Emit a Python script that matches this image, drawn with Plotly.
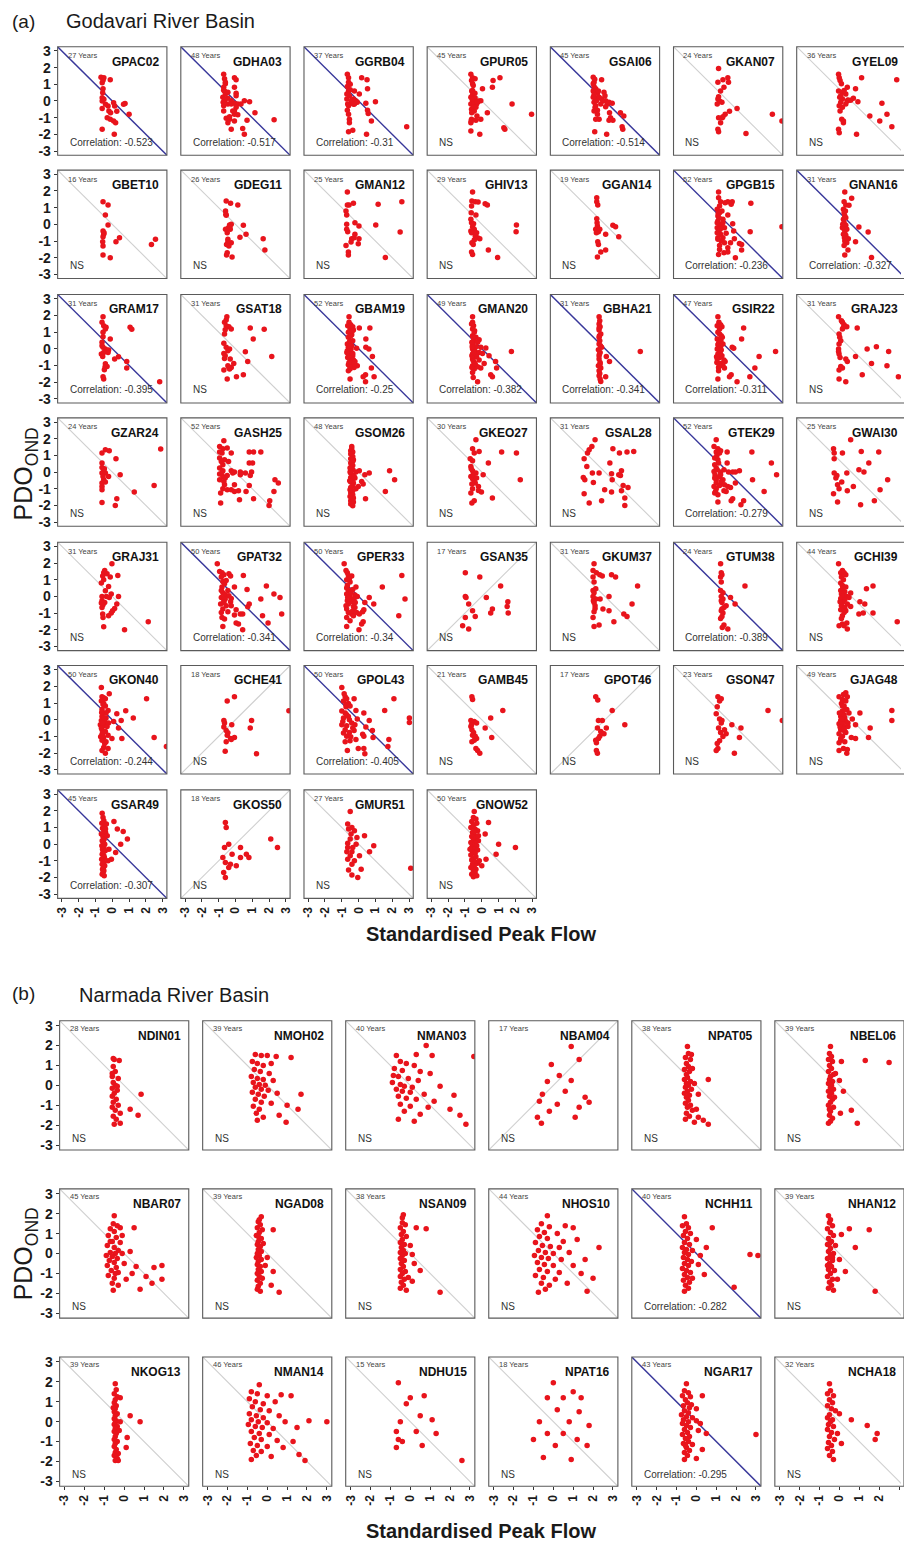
import plotly.graph_objects as go

W, H = 904, 1547

# ---------------- Godavari River Basin: (standardised peak flow, PDO_OND) ----------------
GPAC02 = [(-0.67,1.43),(-0.5,1.4),(-0.12,1.27),(-0.6,1.1),(-0.55,0.73),(-0.57,0.5),(-0.6,0.2),(-0.6,0.0),(0.08,-0.1),(0.14,-0.3),(-0.25,-0.3),(-0.6,-0.45),(0.27,-0.62),(0.76,-0.15),(0.67,-0.2),(1.0,-0.8),(-0.2,-0.6),(-0.3,-1.0),(-0.12,-1.1),(0.08,-1.2),(0.2,-1.3),(-0.6,-1.7),(0.12,-2.0),(-0.55,1.25),(-0.5,0.1),(-0.1,-0.7),(-0.4,-0.2)]
GDHA03 = [(-0.7,1.6),(-0.65,1.33),(-0.06,1.4),(0.04,1.27),(-0.6,1.03),(-0.7,0.83),(-0.06,0.83),(-0.65,0.6),(0.04,0.46),(-0.6,0.42),(-0.75,0.22),(-0.45,0.16),(-0.65,0.0),(-0.25,0.02),(-0.06,-0.14),(0.14,-0.18),(-0.7,-0.28),(-0.45,-0.18),(0.04,-0.38),(0.53,0.02),(0.84,-0.04),(1.16,-0.7),(-0.06,-0.8),(0.14,-0.83),(-0.55,-1.03),(-0.35,-1.1),(-0.45,-1.3),(-0.06,-1.2),(0.69,-1.15),(2.3,-1.13),(-0.25,-1.7),(0.43,-1.65),(0.53,-2.0),(-0.06,-0.6),(-0.7,-0.6),(-0.6,1.13),(-0.7,0.65),(-0.25,-0.18),(-0.45,0.53),(-0.65,0.14),(-0.73,-0.08),(-0.16,-0.6),(0.33,-0.18),(-0.35,-0.95),(0.04,0.32)]
GGRB04 = [(-0.67,1.6),(-0.6,1.4),(0.18,1.4),(0.5,1.27),(-0.6,1.13),(-0.67,0.87),(0.53,0.73),(-0.6,0.6),(-0.25,0.6),(0.04,0.42),(-0.55,0.32),(-0.31,0.12),(-0.16,0.0),(-0.47,-0.14),(-0.25,-0.18),(0.43,-0.14),(1.0,-0.04),(-0.6,-0.28),(-0.67,-0.55),(0.53,-0.55),(0.57,-0.75),(-0.55,-1.1),(0.76,-1.2),(-0.55,-1.3),(-0.35,-1.75),(-0.6,-1.85),(0.47,-2.0),(2.86,-1.55),(-0.7,0.12),(-0.41,0.04),(-0.65,-0.18),(-0.5,0.67),(-0.08,-0.08),(-0.7,0.42),(-0.3,-0.2),(-0.6,-0.8),(-0.5,1.0)]
GPUR05 = [(-0.65,1.6),(-0.55,1.4),(-0.4,1.33),(0.67,1.23),(1.08,1.4),(0.63,0.83),(0.04,0.73),(-0.55,1.03),(-0.6,0.6),(-0.55,0.38),(-0.65,0.22),(-0.4,0.18),(-0.55,0.02),(-0.2,0.0),(-0.06,0.02),(-0.65,-0.18),(-0.31,-0.18),(-0.61,-0.5),(-0.45,-0.6),(0.33,-0.7),(1.8,-0.18),(2.96,-0.8),(-0.29,-0.9),(-0.61,-1.1),(-0.35,-1.15),(-0.06,-1.1),(-0.65,-1.3),(1.31,-1.6),(1.37,-1.7),(-0.65,-1.8),(-0.12,-2.0),(-0.5,-0.28),(-0.55,0.63),(-0.61,1.23),(-0.47,-0.08),(-0.57,0.12),(-0.35,-0.38),(-0.6,-0.7),(-0.63,-1.2),(-0.25,-0.08),(-0.51,0.93),(-0.41,0.46)]
GSAI06 = [(-0.7,1.43),(-0.2,1.27),(-0.65,1.13),(-0.65,0.87),(-0.7,0.6),(-0.45,0.46),(-0.06,0.53),(-0.65,0.38),(-0.55,0.16),(-0.2,0.12),(0.04,0.02),(0.14,-0.18),(0.43,-0.14),(-0.65,-0.08),(-0.55,-0.28),(-0.45,-0.55),(0.27,-0.7),(0.92,-0.7),(1.12,-0.9),(-0.55,-1.1),(-0.35,-1.1),(0.24,-1.15),(0.47,-1.15),(0.33,-1.0),(1.02,-1.55),(1.06,-1.7),(-0.61,-1.85),(0.1,-2.0),(-0.7,1.03),(-0.55,0.73),(-0.35,0.22),(-0.12,0.0),(-0.59,-0.38),(-0.45,-0.8),(0.04,-0.35),(-0.7,0.22),(-0.25,-0.18),(0.24,-0.08),(-0.61,1.3),(-0.51,0.02),(0.0,0.32),(-0.39,0.6),(-0.65,-0.6)]
GKAN07 = [(-0.57,1.95),(-0.61,1.13),(-0.31,1.27),(-0.02,1.4),(0.02,1.13),(-0.25,0.83),(-0.45,0.6),(-0.61,0.12),(-0.51,0.0),(-0.37,-0.08),(-0.65,-0.18),(0.53,-0.45),(0.08,-0.62),(-0.18,-0.8),(-0.35,-1.0),(-0.45,-1.3),(-0.61,-1.7),(-0.57,-1.85),(1.06,-1.95),(2.63,-0.8),(3.2,-1.2),(-0.57,0.26),(-0.31,-0.95),(-0.57,-1.0)]
GYEL09 = [(-0.76,1.6),(-0.72,1.4),(-0.67,1.23),(0.61,1.4),(2.7,1.27),(-0.24,0.83),(0.25,0.73),(-0.76,0.6),(-0.53,0.53),(-0.33,0.42),(-0.69,0.22),(0.12,0.16),(0.39,-0.04),(-0.24,0.0),(-0.63,-0.08),(-0.72,-0.28),(-0.33,-0.18),(-0.53,-0.38),(1.82,-0.14),(1.1,-0.9),(2.12,-0.8),(1.69,-1.2),(-0.57,-1.1),(-0.47,-1.3),(2.41,-1.55),(-0.76,-1.7),(-0.72,-1.9),(0.31,-2.0),(-0.53,0.12),(-0.67,-0.6),(-0.43,0.63),(-0.59,1.03),(-0.04,0.04),(-0.47,-1.2),(-0.2,0.06),(-0.63,0.32)]
GBET10 = [(-0.55,1.36),(-0.25,1.16),(-0.41,0.56),(-0.25,-0.04),(-0.55,-0.4),(-0.51,-0.6),(-0.55,-0.74),(-0.57,-1.04),(-0.55,-1.3),(0.22,-1.04),(0.43,-0.8),(2.33,-1.2),(2.57,-0.9),(-0.55,-1.84),(-0.12,-2.0),(-0.49,-0.5)]
GDEG11 = [(-0.55,1.4),(-0.29,1.26),(0.14,1.16),(-0.59,0.8),(-0.55,0.54),(-0.35,-0.04),(-0.25,0.0),(-0.41,-0.2),(-0.59,-0.3),(-0.49,-0.5),(-0.31,-0.3),(0.47,-0.06),(0.63,-0.6),(0.27,-0.78),(1.65,-0.86),(1.75,-1.54),(-0.45,-1.04),(-0.25,-1.1),(-0.53,-1.2),(-0.39,-1.3),(-0.49,-1.7),(-0.53,-1.84),(-0.2,-1.96),(-0.57,0.6),(-0.45,-0.9),(-0.33,-0.14)]
GMAN12 = [(-0.67,1.94),(-0.67,1.16),(-0.57,1.16),(-0.31,1.26),(1.16,1.2),(2.57,1.36),(-0.75,0.8),(-0.71,0.56),(-0.71,0.0),(-0.22,0.1),(0.02,-0.1),(1.02,-0.04),(-0.71,-0.3),(-0.65,-0.44),(-0.22,-0.6),(0.02,-0.86),(-0.41,-0.86),(-0.45,-1.06),(-0.02,-1.16),(-0.75,-1.26),(2.47,-0.46),(-0.61,-1.66),(-0.61,-1.84),(1.59,-1.98),(-0.27,-0.8)]
GHIV13 = [(-0.55,1.94),(-0.59,1.4),(-0.39,1.36),(-0.22,1.34),(0.2,1.24),(0.33,1.16),(-0.61,1.1),(-0.35,0.56),(-0.65,0.3),(-0.61,0.1),(-0.55,-0.14),(-0.45,-0.3),(-0.65,-0.4),(-0.61,-0.5),(-0.39,-0.7),(-0.25,-0.8),(-0.12,-0.86),(-0.45,-0.94),(-0.59,-1.1),(-0.51,-1.2),(2.06,-0.04),(2.04,-0.44),(0.39,-1.54),(0.94,-1.98),(-0.61,-1.66),(-0.55,-1.8),(-0.49,0.04),(-0.63,0.7),(-0.31,-0.5)]
GGAN14 = [(-0.49,1.6),(-0.49,1.36),(-0.43,1.16),(-0.49,0.34),(-0.45,-0.1),(-0.55,-0.3),(-0.39,-0.44),(0.04,-0.6),(0.47,-0.06),(0.63,-0.14),(0.82,-0.74),(-0.43,-1.04),(0.04,-1.54),(-0.25,-1.66),(-0.45,-1.96),(-0.47,0.1),(-0.39,-1.2),(-0.51,-0.5),(-0.31,-0.3)]
GPGB15 = [(-0.57,1.94),(-0.57,1.6),(-0.45,1.36),(-0.02,1.36),(0.24,1.36),(0.18,1.2),(1.35,1.26),(-0.51,1.1),(-0.65,0.9),(-0.51,0.7),(-0.61,0.5),(-0.02,0.56),(-0.31,0.3),(-0.61,0.2),(-0.51,0.0),(0.27,0.04),(-0.65,-0.2),(-0.22,-0.2),(3.2,-0.14),(-0.57,-0.4),(0.33,-0.4),(1.31,-0.44),(-0.45,-0.6),(-0.12,-0.54),(-0.61,-0.8),(-0.31,-0.8),(0.37,-0.86),(-0.41,-1.0),(0.14,-1.1),(0.67,-1.14),(0.8,-1.2),(-0.51,-1.26),(-0.02,-1.4),(0.8,-1.54),(-0.25,-1.7),(-0.02,-1.66),(-0.57,-1.8),(0.43,-2.0),(-0.65,0.1),(-0.41,-0.1),(-0.55,0.4),(-0.37,0.8),(-0.65,-0.5),(-0.22,-1.1),(-0.47,-0.3),(-0.61,-0.9),(-0.31,0.1),(-0.51,-1.5),(-0.18,1.3),(-0.59,0.66)]
GNAN16 = [(-0.39,1.94),(0.02,1.56),(-0.43,1.36),(-0.33,1.16),(-0.14,1.14),(-0.47,0.9),(-0.43,0.7),(-0.39,0.5),(-0.47,0.3),(-0.43,0.1),(-0.33,-0.06),(0.45,-0.16),(-0.43,-0.26),(1.0,-0.46),(-0.39,-0.46),(-0.33,-0.66),(-0.18,-0.86),(0.25,-1.04),(-0.39,-1.0),(-0.27,-1.1),(-0.43,-1.26),(-0.2,-1.54),(-0.39,-1.84),(1.2,-1.98),(-0.53,-0.2),(-0.33,0.4),(-0.47,-0.6),(-0.41,-0.8),(-0.27,-0.3),(-0.51,0.0),(-0.35,0.8)]
GRAM17 = [(-0.55,1.92),(-0.61,1.58),(-0.51,1.38),(-0.41,1.18),(-0.55,0.98),(1.06,1.28),(1.16,1.16),(-0.55,0.72),(-0.12,0.58),(-0.61,0.38),(-0.55,0.08),(-0.41,-0.02),(-0.31,-0.12),(-0.22,-0.08),(-0.25,-0.22),(-0.65,-0.32),(-0.57,-0.46),(0.37,-0.48),(0.14,-0.62),(0.86,-0.76),(-0.41,-0.9),(-0.31,-1.06),(0.86,-1.16),(-0.47,-1.26),(-0.55,-1.68),(-0.51,-1.82),(2.82,-1.98),(-0.61,0.18),(-0.43,-1.1),(-0.51,-0.22),(-0.37,1.28)]
GSAT18 = [(-0.51,1.92),(-0.65,1.58),(-0.55,1.38),(-0.39,1.32),(-0.61,1.14),(0.88,1.24),(1.71,1.16),(1.06,0.58),(-0.65,0.88),(-0.69,0.32),(-0.55,0.08),(-0.35,-0.02),(-0.69,-0.28),(-0.61,-0.42),(0.59,-0.18),(2.16,-0.46),(-0.31,-0.62),(-0.1,-0.88),(0.73,-0.76),(-0.45,-1.02),(-0.25,-1.12),(-0.35,-1.22),(-0.69,-1.28),(0.47,-1.56),(0.06,-1.68),(-0.49,-1.82),(-0.45,-0.12),(-0.65,-0.58),(-0.25,1.18),(-0.55,1.72),(-0.39,-1.12)]
GBAM19 = [(-0.57,1.92),(-0.57,1.58),(-0.47,1.44),(-0.35,1.32),(-0.51,1.18),(-0.31,1.12),(0.04,1.24),(0.67,1.24),(-0.61,0.98),(-0.41,0.84),(-0.61,0.68),(0.43,0.58),(-0.51,0.48),(-0.67,0.28),(-0.41,0.18),(-0.61,0.08),(-0.12,0.02),(0.43,0.08),(0.61,-0.02),(-0.67,-0.12),(-0.51,-0.22),(-0.61,-0.32),(-0.35,-0.42),(0.82,-0.46),(-0.51,-0.62),(-0.31,-0.68),(-0.22,-0.76),(-0.41,-0.88),(-0.61,-0.96),(-0.08,-1.02),(-0.27,-1.12),(-0.51,-1.22),(0.76,-1.16),(-0.61,-1.32),(0.41,-1.56),(0.27,-1.68),(0.92,-1.68),(-0.51,-1.82),(0.41,-1.98),(-0.55,0.38),(-0.65,-0.52),(-0.45,-0.02),(-0.35,0.48),(-0.57,-0.82),(-0.7,-0.22),(-0.25,-0.92),(-0.47,0.78),(-0.51,-1.08),(-0.39,1.04),(-0.65,1.38),(-0.35,-0.28),(-0.53,0.18)]
GMAN20 = [(-0.55,1.92),(-0.55,1.58),(-0.49,1.38),(-0.55,1.18),(-0.45,0.98),(-0.55,0.78),(-0.35,0.68),(-0.16,0.54),(-0.49,0.48),(-0.25,0.38),(-0.55,0.24),(-0.35,0.12),(-0.06,0.08),(0.24,0.04),(1.76,-0.16),(-0.55,-0.02),(-0.39,-0.16),(-0.16,-0.22),(0.04,-0.28),(-0.55,-0.32),(0.43,-0.42),(-0.31,-0.48),(-0.55,-0.62),(-0.16,-0.68),(0.82,-0.76),(-0.45,-0.82),(0.14,-0.88),(-0.55,-1.02),(-0.25,-1.08),(-0.06,-1.16),(0.88,-1.16),(-0.45,-1.22),(-0.55,-1.42),(0.53,-1.56),(0.63,-1.68),(-0.51,-1.72),(-0.25,-1.98),(-0.59,0.38),(-0.59,-0.42),(-0.47,-0.08),(-0.59,-1.12),(-0.43,1.08),(-0.51,-0.72),(-0.35,-0.32),(-0.57,0.12),(-0.49,-0.22),(-0.61,1.48),(-0.39,-0.92),(-0.51,0.68)]
GBHA21 = [(-0.35,1.92),(-0.31,1.68),(-0.35,1.48),(-0.29,1.32),(-0.35,1.12),(-0.25,0.88),(-0.35,0.68),(-0.31,0.48),(-0.35,0.28),(-0.2,0.08),(-0.39,-0.06),(-0.29,-0.22),(2.1,-0.16),(0.08,-0.46),(0.27,-0.76),(-0.35,-0.62),(-0.29,-0.82),(-0.39,-1.02),(-0.25,-1.16),(-0.35,-1.32),(-0.31,-1.48),(0.04,-1.68),(-0.29,-1.82),(-0.25,-1.96),(-0.35,-0.42),(-0.29,-0.92),(-0.35,-1.62),(-0.33,0.78),(-0.27,0.18),(-0.33,-0.32),(-0.35,1.24)]
GSIR22 = [(-0.61,1.92),(-0.55,1.58),(-0.45,1.44),(-0.37,1.32),(-0.51,1.18),(0.92,1.24),(-0.61,0.98),(-0.41,0.78),(0.8,0.58),(-0.65,0.58),(-0.51,0.44),(-0.61,0.24),(-0.45,0.12),(0.24,0.08),(0.33,0.02),(-0.65,-0.02),(-0.51,-0.16),(2.82,-0.16),(-0.61,-0.32),(-0.37,-0.42),(1.84,-0.46),(-0.51,-0.52),(-0.65,-0.62),(-0.25,-0.68),(-0.18,-0.76),(-0.45,-0.88),(-0.31,-1.02),(-0.57,-1.12),(-0.22,-1.16),(1.59,-1.16),(0.18,-1.56),(0.08,-1.68),(1.29,-1.68),(-0.61,-1.82),(0.53,-1.98),(-0.57,0.32),(-0.41,-0.08),(-0.67,-0.82),(-0.51,0.88),(-0.47,-0.28),(-0.31,0.28),(-0.65,1.38),(-0.57,-1.32),(-0.35,0.68),(-0.55,-0.92),(-0.43,0.48),(-0.69,-0.48)]
GRAJ23 = [(-0.76,1.92),(-0.53,1.58),(-0.43,1.44),(-0.27,1.32),(-0.53,1.18),(0.35,1.24),(-0.73,0.88),(-0.63,0.48),(-0.73,0.28),(-0.76,-0.02),(0.94,-0.02),(1.49,0.12),(2.22,-0.16),(-0.73,-0.32),(0.25,-0.46),(-0.33,-0.62),(-0.24,-0.76),(1.2,-0.88),(2.12,-1.02),(-0.63,-1.06),(-0.53,-1.16),(-0.73,-1.28),(0.65,-1.56),(2.8,-1.68),(-0.73,-1.82),(-0.33,-1.98),(-0.76,-0.16),(-0.69,0.68),(-0.47,1.28),(-0.67,-0.52),(-0.59,1.68)]
GZAR24 = [(-0.41,1.34),(-0.18,1.28),(-0.61,1.14),(0.22,0.8),(-0.61,0.54),(-0.61,0.28),(-0.51,0.08),(-0.61,-0.06),(-0.41,-0.06),(-0.22,-0.26),(-0.51,-0.46),(-0.41,-0.6),(0.47,-0.16),(2.88,1.38),(-0.61,-0.86),(-0.61,-1.06),(1.31,-1.2),(2.49,-0.8),(0.27,-1.6),(-0.61,-1.82),(0.18,-2.0),(-0.55,-0.26),(-0.47,0.2),(-0.61,-0.66)]
GASH25 = [(-0.69,1.88),(-0.94,1.54),(-0.75,1.4),(-0.49,1.44),(-0.94,1.2),(-0.8,1.14),(-0.25,1.14),(0.82,1.2),(1.08,1.2),(1.51,1.2),(-0.94,0.84),(-0.65,0.74),(-0.41,0.64),(0.82,0.54),(1.02,0.54),(-0.75,0.44),(-0.94,0.24),(-0.75,0.08),(-0.25,0.08),(-0.06,0.0),(0.29,0.0),(0.96,0.0),(-0.94,-0.12),(-0.75,-0.26),(-0.49,-0.2),(-0.16,-0.06),(0.29,-0.16),(0.59,-0.06),(0.88,-0.2),(-0.94,-0.46),(-0.69,-0.56),(-0.65,-0.76),(-0.06,-0.76),(0.82,-0.8),(2.35,-0.46),(2.55,-0.66),(-0.75,-1.0),(-0.25,-1.06),(-0.06,-1.16),(0.18,-1.12),(0.63,-1.16),(2.29,-1.16),(-0.88,-1.26),(-0.49,-1.06),(0.24,-1.66),(1.08,-1.6),(2.04,-1.72),(-0.88,-1.86),(2.0,-2.0),(-0.84,0.64),(-0.61,-0.36),(-0.78,0.04)]
GSOM26 = [(-0.41,1.54),(-0.41,1.4),(-0.47,1.28),(-0.35,1.2),(-0.47,1.08),(-0.35,0.94),(-0.47,0.8),(-0.35,0.64),(-0.47,0.54),(-0.35,0.4),(-0.47,0.28),(-0.35,0.14),(0.04,0.08),(-0.16,0.0),(-0.47,-0.06),(0.63,-0.06),(0.37,-0.16),(-0.35,-0.2),(1.84,0.08),(2.14,-0.46),(-0.47,-0.32),(-0.22,-0.36),(-0.35,-0.46),(0.18,-0.56),(-0.47,-0.6),(0.27,-0.72),(-0.35,-0.8),(-0.02,-0.86),(-0.47,-0.92),(-0.16,-1.0),(-0.35,-1.12),(1.59,-1.16),(-0.47,-1.26),(-0.35,-1.36),(0.41,-1.6),(-0.47,-1.72),(-0.31,-1.8),(-0.47,-1.92),(-0.35,-2.02),(-0.51,-1.06),(-0.31,-0.66),(-0.51,0.0),(-0.31,0.74),(-0.51,0.24),(-0.31,-1.56),(-0.51,-1.46),(-0.27,-0.26),(-0.53,-0.52)]
GKEO27 = [(-0.35,1.94),(-0.55,1.4),(-0.16,1.24),(-0.45,1.14),(1.18,1.2),(2.06,1.14),(0.39,0.54),(-0.69,0.8),(-0.65,0.34),(-0.55,0.08),(-0.35,-0.06),(0.08,-0.16),(-0.65,-0.26),(-0.55,-0.4),(2.29,-0.46),(-0.45,-0.56),(-0.59,-0.72),(-0.2,-0.86),(-0.55,-1.0),(-0.02,-1.2),(-0.2,-1.1),(-0.65,-1.26),(0.63,-1.56),(-0.45,-1.72),(-0.59,-1.86),(-0.51,-0.16),(-0.63,0.2),(-0.39,-0.66),(-0.55,0.68),(-0.31,-0.36)]
GSAL28 = [(-0.59,1.94),(-0.78,1.54),(-0.94,1.34),(-1.04,1.14),(0.47,1.4),(0.86,1.14),(1.31,1.2),(1.71,1.24),(-1.24,0.8),(0.29,0.54),(-1.08,0.34),(-0.75,-0.06),(-0.35,-0.06),(0.39,-0.1),(0.92,-0.2),(0.98,0.08),(-1.29,-0.32),(-1.2,-0.46),(-0.69,-0.62),(1.08,-0.8),(1.37,-0.92),(-0.02,-1.06),(0.39,-1.2),(0.98,-1.12),(-1.24,-1.3),(1.18,-1.56),(-0.2,-1.72),(-0.94,-1.86),(1.18,-2.0),(0.43,-0.46),(0.82,-0.16)]
GTEK29 = [(-0.71,1.94),(-0.84,1.54),(-0.61,1.4),(-0.45,1.28),(-0.71,1.2),(-0.06,1.2),(-0.51,1.14),(1.41,1.2),(-0.8,0.84),(-0.61,0.74),(-0.06,0.54),(2.57,0.54),(-0.8,0.44),(-0.71,0.24),(-0.25,0.14),(-0.84,0.04),(-0.45,0.0),(0.02,0.0),(0.27,0.0),(0.43,0.0),(0.67,0.08),(2.88,-0.16),(-0.78,-0.16),(-0.51,-0.26),(-0.71,-0.46),(-0.31,-0.46),(1.45,-0.46),(-0.71,-0.66),(0.43,-0.66),(-0.51,-0.8),(-0.02,-0.86),(0.14,-0.92),(-0.71,-1.0),(-0.25,-1.12),(-0.12,-1.16),(2.14,-1.16),(-0.8,-1.26),(-0.61,-1.36),(0.27,-1.6),(0.18,-1.72),(0.92,-1.72),(-0.61,-1.8),(0.76,-1.96),(-0.8,-0.36),(-0.65,0.14),(-0.84,-0.86),(-0.57,0.54),(-0.41,-0.56),(-0.75,-1.16),(-0.22,-0.76),(-0.67,1.0),(-0.45,-0.16)]
GWAI30 = [(-0.04,1.94),(-1.06,1.4),(-1.02,1.14),(-0.53,1.14),(0.59,1.24),(1.63,1.2),(-1.02,0.8),(1.04,0.54),(0.45,0.14),(0.75,0.0),(-1.02,-0.06),(-0.27,-0.06),(-0.92,-0.36),(-0.57,-0.6),(-0.82,-0.76),(0.12,-0.86),(2.16,-0.46),(-0.73,-1.0),(-0.24,-1.12),(1.71,-1.06),(-1.06,-1.3),(1.37,-1.72),(-0.82,-1.8),(0.55,-1.96),(-0.86,-0.2)]
GRAJ31 = [(-0.02,1.96),(-0.45,1.56),(-0.51,1.42),(-0.31,1.36),(-0.57,1.22),(-0.12,1.16),(0.33,1.26),(-0.51,1.0),(-0.65,0.8),(-0.22,0.6),(-0.41,0.34),(-0.06,0.14),(-0.61,0.0),(-0.35,0.0),(-0.18,-0.06),(0.37,0.0),(-0.61,-0.26),(-0.45,-0.36),(-0.55,-0.5),(0.27,-0.46),(-0.61,-0.66),(0.14,-0.72),(0.02,-0.86),(-0.06,-1.0),(-0.57,-1.06),(-0.22,-1.16),(-0.55,-1.26),(2.14,-1.52),(-0.51,-1.82),(0.73,-2.0),(-0.65,-0.4)]
GPAT32 = [(-1.08,1.96),(-0.94,1.5),(-0.8,1.42),(-0.69,1.3),(-0.84,1.16),(-0.39,1.36),(-0.29,1.22),(0.47,1.26),(-0.75,0.9),(-0.65,0.76),(-0.8,0.56),(-0.06,0.56),(-0.45,0.36),(0.69,0.42),(1.84,0.62),(-0.75,0.22),(-0.61,0.1),(-0.39,0.04),(2.29,0.14),(2.65,-0.06),(1.51,-0.16),(-0.84,-0.06),(-0.25,-0.12),(-0.69,-0.26),(-0.29,-0.32),(0.82,-0.46),(0.73,-0.62),(-0.88,-0.46),(-0.55,-0.56),(-0.75,-0.76),(0.04,-0.8),(-0.45,-0.92),(-0.06,-1.12),(0.29,-1.06),(0.43,-1.06),(1.61,-1.16),(2.75,-1.06),(-0.8,-1.26),(-0.65,-1.36),(0.04,-1.6),(0.18,-1.66),(1.94,-1.6),(-0.75,-1.8),(0.43,-2.0),(-0.61,-0.16),(-0.84,0.36),(-0.55,0.96),(-0.69,-0.36),(-0.25,-0.56),(-0.84,-0.96)]
GPER33 = [(-0.86,1.96),(-0.75,1.56),(-0.67,1.42),(-0.61,1.26),(-0.41,1.22),(-0.71,1.0),(-0.51,0.86),(-0.67,0.66),(-0.16,0.56),(1.41,0.56),(2.57,1.26),(-0.61,0.36),(-0.35,0.42),(-0.71,0.14),(-0.22,0.08),(-0.08,0.0),(-0.51,0.0),(0.63,-0.06),(2.76,-0.16),(-0.67,-0.26),(-0.41,-0.32),(0.37,-0.36),(0.9,-0.46),(-0.61,-0.46),(-0.31,-0.6),(-0.22,-0.66),(-0.71,-0.76),(0.31,-0.8),(0.24,-0.92),(-0.41,-1.06),(0.04,-1.06),(-0.71,-1.26),(2.39,-1.16),(-0.31,-1.16),(0.27,-1.52),(0.18,-1.66),(-0.71,-1.8),(0.02,-2.0),(-0.55,-0.16),(-0.75,-0.56),(-0.45,0.24),(-0.27,-0.16),(-0.61,-0.96),(-0.35,-0.86),(-0.71,0.5),(-0.55,1.08),(-0.2,-0.36),(-0.51,-1.46),(-0.65,-0.06),(-0.12,-0.96)]
GSAN35 = [(-0.98,1.42),(-0.12,1.16),(1.12,0.62),(-0.98,0.0),(0.27,-0.06),(-0.78,-0.46),(1.55,-0.32),(-0.55,-0.86),(0.63,-0.76),(1.51,-0.6),(-0.39,-1.2),(0.53,-1.0),(1.57,-1.0),(-0.98,-1.26),(-1.14,-1.76),(-0.78,-1.96),(-0.94,-0.06)]
GKUM37 = [(-0.65,1.96),(-0.71,1.56),(-0.51,1.42),(-0.31,1.3),(-0.16,1.22),(-0.71,1.16),(0.39,1.3),(0.63,1.16),(1.94,0.62),(-0.65,0.86),(-0.71,0.36),(-0.65,0.22),(-0.71,0.0),(-0.55,-0.16),(-0.29,-0.16),(0.24,0.0),(-0.65,-0.36),(1.61,-0.46),(-0.59,-0.56),(-0.12,-0.76),(0.24,-0.86),(-0.65,-0.92),(1.12,-1.06),(1.31,-1.2),(-0.71,-1.26),(0.53,-1.52),(-0.35,-1.72),(-0.65,-1.8),(-0.55,0.46),(-0.59,-0.72),(-0.69,-0.26)]
GTUM38 = [(-0.45,1.96),(-0.41,1.42),(-0.37,1.3),(-0.45,1.16),(1.0,0.62),(-0.45,0.36),(-0.31,0.22),(-0.41,0.0),(0.14,-0.06),(-0.31,-0.16),(-0.37,-0.36),(0.41,-0.46),(-0.12,-0.56),(-0.25,-0.66),(-0.41,-0.86),(-0.31,-1.0),(-0.37,-1.2),(-0.45,-1.32),(-0.25,-1.72),(-0.02,-1.96),(-0.35,-1.86),(-0.41,-0.26),(-0.37,-0.76),(-0.41,0.86)]
GCHI39 = [(-0.76,1.96),(-0.53,1.56),(-0.63,1.42),(-0.43,1.42),(-0.33,1.3),(-0.59,1.16),(-0.47,1.0),(-0.63,0.8),(-0.53,0.66),(-0.33,0.56),(1.29,0.62),(0.9,0.46),(-0.63,0.36),(-0.39,0.28),(-0.04,0.2),(-0.59,0.14),(-0.47,0.04),(-0.27,0.0),(-0.14,-0.06),(-0.63,-0.12),(-0.39,-0.2),(0.51,-0.32),(0.8,-0.46),(-0.53,-0.36),(-0.24,-0.46),(-0.59,-0.56),(-0.39,-0.66),(-0.04,-0.6),(-0.63,-0.8),(-0.33,-0.86),(0.45,-1.06),(0.71,-1.0),(1.29,-1.0),(2.73,-1.52),(-0.53,-1.16),(-0.59,-1.32),(-0.27,-1.6),(-0.53,-1.66),(-0.73,-1.76),(-0.24,-1.96),(-0.43,-1.76),(-0.67,-0.32),(-0.51,0.5),(-0.43,-0.96)]
GKON40 = [(-0.65,1.94),(-0.61,1.38),(-0.51,1.32),(-0.41,1.26),(-0.18,1.56),(-0.65,1.12),(-0.51,0.98),(-0.41,0.82),(-0.61,0.62),(-0.25,0.56),(-0.51,0.4),(0.27,0.36),(0.8,0.54),(1.25,0.1),(2.04,1.26),(-0.61,0.2),(-0.37,0.1),(0.53,-0.04),(-0.65,-0.04),(-0.45,-0.1),(0.08,-0.1),(-0.71,-0.3),(-0.51,-0.36),(-0.31,-0.4),(0.37,-0.5),(-0.61,-0.6),(-0.41,-0.7),(-0.61,-0.86),(-0.25,-0.92),(-0.51,-1.06),(-0.02,-1.12),(0.57,-1.12),(2.49,-1.06),(-0.61,-1.22),(-0.37,-1.32),(3.22,-1.6),(-0.51,-1.66),(-0.25,-1.72),(-0.61,-1.84),(-0.41,-2.0),(-0.57,-0.2),(-0.65,-0.5),(-0.49,0.1),(-0.55,0.92),(-0.45,-1.42),(-0.69,-1.02),(-0.37,0.4),(-0.63,0.44),(-0.22,-0.2),(-0.55,-0.78)]
GCHE41 = [(-0.49,1.12),(-0.06,1.38),(3.18,0.54),(-0.69,-0.04),(-0.22,-0.3),(0.96,-0.04),(-0.69,-0.44),(0.88,-0.5),(-0.55,-0.64),(-0.49,-0.92),(-0.29,-1.12),(-0.06,-1.06),(-0.55,-1.32),(-0.61,-1.88),(1.25,-2.04),(-0.25,-1.18),(-0.65,-0.2),(-0.45,-0.78)]
GPOL43 = [(-1.0,1.94),(-0.86,1.56),(-0.8,1.38),(-0.71,1.26),(-0.27,1.26),(2.1,1.26),(-0.9,1.12),(-0.61,0.98),(-0.75,0.78),(-0.51,0.82),(-1.0,0.52),(-0.16,0.56),(1.55,0.56),(-0.71,0.3),(0.31,0.4),(-0.9,0.1),(-0.55,0.0),(-0.08,0.04),(0.63,-0.04),(3.02,0.1),(3.02,-0.16),(-1.0,-0.3),(-0.71,-0.36),(-0.22,-0.3),(0.43,-0.44),(-0.8,-0.6),(-0.27,-0.64),(0.82,-0.64),(-0.55,-0.76),(0.24,-0.86),(0.31,-0.98),(-0.71,-0.98),(-0.16,-1.18),(0.86,-1.06),(1.8,-1.18),(-0.8,-1.32),(-0.51,-1.26),(1.74,-1.6),(-0.02,-1.72),(0.31,-1.72),(-0.67,-1.84),(0.37,-2.04),(-0.94,-0.1),(-0.8,0.4),(-0.41,-0.2),(-0.9,-0.8),(-0.61,0.2),(-0.35,-0.5),(-0.75,0.92),(-0.47,-1.02)]
GAMB45 = [(-0.59,1.38),(-0.55,1.22),(1.25,0.56),(0.53,0.1),(-0.65,-0.04),(-0.45,-0.1),(-0.31,-0.2),(0.2,-0.5),(-0.65,-0.4),(-0.59,-0.6),(-0.49,-0.76),(0.59,-1.06),(-0.31,-1.12),(-0.45,-1.22),(-0.59,-1.32),(-0.35,-1.72),(-0.25,-1.84),(-0.12,-2.0),(-0.55,-0.92),(-0.61,-0.3),(-0.39,-0.98)]
GPOT46 = [(-0.55,1.38),(-0.43,1.18),(0.43,0.56),(-0.39,-0.04),(-0.16,-0.04),(1.18,-0.3),(-0.45,-0.5),(0.08,-0.5),(-0.25,-0.7),(-0.06,-0.84),(-0.31,-0.98),(-0.55,-1.22),(-0.39,-1.12),(-0.51,-1.38),(-0.51,-1.84),(-0.45,-2.0),(-0.2,-0.8)]
GSON47 = [(-0.61,1.38),(-0.41,1.26),(-0.51,1.12),(2.37,0.56),(-0.65,0.78),(3.22,-0.04),(-0.71,0.36),(-0.37,-0.04),(-0.51,0.04),(0.22,-0.3),(0.76,-0.5),(-0.57,-0.5),(-0.22,-0.6),(-0.45,-0.76),(-0.12,-0.84),(-0.31,-1.0),(0.67,-1.06),(-0.51,-1.26),(-0.61,-1.72),(-0.71,-1.84),(0.37,-2.0),(-0.41,-0.2),(-0.65,-1.42)]
GJAG48 = [(-0.33,1.62),(-0.47,1.52),(-0.24,1.38),(-0.73,1.38),(-0.53,1.22),(-0.33,1.12),(-0.59,0.98),(-0.43,0.82),(-0.27,0.62),(-0.53,0.52),(-0.14,0.4),(0.51,0.4),(2.41,0.56),(2.41,-0.04),(-0.63,0.2),(-0.39,0.1),(0.06,0.04),(-0.63,-0.04),(-0.33,-0.1),(0.25,-0.3),(-0.73,-0.24),(-0.47,-0.36),(-0.2,-0.4),(1.12,-0.5),(-0.63,-0.6),(-0.39,-0.7),(-0.73,-0.84),(-0.53,-0.98),(0.0,-1.06),(0.25,-1.12),(1.02,-1.06),(-0.63,-1.22),(-0.39,-1.32),(-0.73,-1.38),(-0.47,-1.72),(-0.24,-1.78),(-0.73,-1.84),(-0.27,-2.0),(-0.57,-0.16),(-0.43,0.3),(-0.67,-0.44),(-0.53,0.82),(-0.33,-0.76),(-0.63,-1.12),(-0.2,-0.2),(-0.71,0.4),(-0.43,-0.56),(-0.57,0.04),(-0.35,0.62)]
GSAR49 = [(-0.6,1.85),(-0.55,1.6),(-0.5,1.4),(-0.62,1.25),(-0.45,1.1),(-0.58,0.95),(-0.5,0.8),(-0.4,0.7),(-0.65,0.6),(-0.55,0.45),(-0.48,0.3),(-0.6,0.2),(-0.52,0.1),(-0.45,0.0),(-0.62,-0.1),(-0.5,-0.2),(-0.58,-0.3),(-0.42,-0.4),(-0.55,-0.5),(-0.6,-0.6),(-0.5,-0.7),(-0.47,-0.8),(-0.63,-0.9),(-0.55,-1.0),(-0.5,-1.1),(-0.6,-1.2),(-0.45,-1.3),(-0.52,-1.4),(-0.58,-1.5),(-0.5,-1.6),(-0.55,-1.7),(-0.6,-1.8),(-0.48,-1.9),(-0.3,0.5),(-0.2,-0.3),(0.1,1.35),(0.3,0.9),(0.65,0.75),(0.5,0.0),(0.9,0.3),(-0.05,-0.9),(-0.35,1.2),(-0.25,-1.0),(0.2,-0.5),(-0.4,0.9)]
GKOS50 = [(-0.6,1.3),(-0.55,1.0),(-0.4,0.0),(0.3,-0.2),(0.8,-0.8),(2.1,0.3),(2.5,-0.2),(-0.75,-0.8),(-0.6,-1.1),(-0.3,-1.2),(0.05,-1.3),(-0.7,-1.7),(-0.6,-2.0),(-0.2,-0.6),(0.65,-0.6),(-0.65,-0.2),(-0.4,-1.4),(0.3,-0.8)]
GMUR51 = [(-0.5,1.95),(-0.65,1.2),(-0.4,1.0),(-0.25,0.8),(0.35,0.5),(-0.5,0.3),(-0.65,-0.2),(-0.4,-0.45),(0.05,-0.7),(0.65,-0.45),(0.9,-0.1),(-0.65,-0.9),(-0.4,-1.2),(-0.6,-1.55),(-0.4,-1.85),(-0.05,-2.0),(3.1,-1.45),(-0.45,0.6),(-0.15,0.0),(-0.65,0.05),(-0.25,-1.0),(0.15,-1.5),(-0.5,-0.7),(-0.1,0.4),(-0.6,0.9),(-0.35,-0.2),(-0.7,-0.45)]
GNOW52 = [(-0.45,1.95),(-0.5,1.6),(-0.35,1.5),(-0.6,1.35),(-0.3,1.25),(0.4,1.3),(-0.5,1.15),(-0.65,1.0),(-0.4,0.9),(-0.25,0.8),(-0.55,0.7),(-0.45,0.55),(0.2,0.6),(-0.6,0.45),(-0.35,0.35),(-0.5,0.25),(-0.2,0.2),(-0.65,0.1),(-0.4,0.05),(-0.55,-0.05),(-0.3,-0.1),(1.0,0.0),(2.0,-0.2),(-0.6,-0.2),(-0.45,-0.3),(-0.25,-0.35),(-0.55,-0.45),(-0.4,-0.55),(0.85,-0.6),(-0.65,-0.65),(-0.35,-0.75),(-0.5,-0.85),(0.25,-0.9),(-0.6,-0.95),(-0.4,-1.05),(-0.25,-1.15),(-0.55,-1.2),(-0.45,-1.3),(-0.65,-1.4),(-0.35,-1.5),(-0.5,-1.6),(-0.4,-1.7),(-0.6,-1.8),(-0.3,-1.9),(-0.15,-1.0),(-0.7,-0.3),(-0.2,0.5),(-0.5,-1.95),(0.0,-1.3),(-0.45,0.75)]

god_names = ["GPAC02", "GDHA03", "GGRB04", "GPUR05", "GSAI06", "GKAN07", "GYEL09",
             "GBET10", "GDEG11", "GMAN12", "GHIV13", "GGAN14", "GPGB15", "GNAN16",
             "GRAM17", "GSAT18", "GBAM19", "GMAN20", "GBHA21", "GSIR22", "GRAJ23",
             "GZAR24", "GASH25", "GSOM26", "GKEO27", "GSAL28", "GTEK29", "GWAI30",
             "GRAJ31", "GPAT32", "GPER33", "GSAN35", "GKUM37", "GTUM38", "GCHI39",
             "GKON40", "GCHE41", "GPOL43", "GAMB45", "GPOT46", "GSON47", "GJAG48",
             "GSAR49", "GKOS50", "GMUR51", "GNOW52"]
god_years = [27, 48, 37, 45, 45, 24, 36,
             16, 26, 25, 29, 19, 52, 31,
             31, 31, 52, 49, 31, 47, 31,
             24, 52, 48, 30, 31, 52, 25,
             31, 50, 50, 17, 31, 24, 44,
             50, 18, 50, 21, 17, 23, 49,
             45, 18, 27, 50]
# None -> not significant ("NS")
god_corr = [-0.523, -0.517, -0.31, None, -0.514, None, None,
            None, None, None, None, None, -0.236, -0.327,
            -0.395, None, -0.25, -0.382, -0.341, -0.311, None,
            None, None, None, None, None, -0.279, None,
            None, -0.341, -0.34, None, None, -0.389, None,
            -0.244, None, -0.405, None, None, None, None,
            -0.307, None, None, None]
# direction of the reference diagonal: -1 falling, +1 rising
god_trend = [-1, -1, -1, -1, -1, -1, -1,
             -1, -1, -1, -1, -1, -1, -1,
             -1, -1, -1, -1, -1, -1, -1,
             -1, -1, -1, -1, -1, -1, -1,
             -1, -1, -1, 1, -1, -1, -1,
             -1, 1, -1, -1, 1, -1, -1,
             -1, 1, -1, -1]

# ---------------- Narmada River Basin ----------------
NDIN01 = [(-0.55,1.35),(-0.25,1.25),(-0.55,0.95),(-0.45,0.7),(-0.6,0.45),(-0.3,0.35),(-0.55,0.15),(-0.45,0.0),(-0.6,-0.15),(-0.35,-0.25),(-0.5,-0.4),(-0.6,-0.55),(-0.4,-0.7),(-0.55,-0.85),(-0.3,-1.0),(-0.6,-1.1),(-0.45,-1.25),(-0.2,-1.4),(-0.55,-1.55),(-0.4,-1.7),(-0.2,-1.9),(0.85,-0.45),(0.3,-1.2),(0.7,-1.5),(-0.5,1.3),(-0.6,0.6),(-0.35,-0.05),(-0.5,-1.95)]
NMOH02 = [(-0.6,1.55),(-0.3,1.5),(0.0,1.5),(0.45,1.45),(1.2,1.4),(-0.75,1.2),(-0.5,1.1),(-0.2,1.0),(0.2,1.1),(-0.65,0.8),(-0.35,0.7),(0.1,0.6),(-0.8,0.45),(-0.5,0.35),(-0.2,0.3),(0.3,0.25),(-0.7,0.15),(-0.4,0.05),(-0.1,0.0),(-0.6,-0.1),(-0.3,-0.2),(0.05,-0.25),(-0.75,-0.35),(-0.45,-0.45),(-0.15,-0.55),(0.5,-0.4),(1.7,-0.45),(-0.6,-0.7),(-0.3,-0.85),(0.2,-0.9),(-0.7,-1.05),(-0.4,-1.2),(1.55,-1.2),(-0.55,-1.4),(0.6,-1.5),(-0.2,-1.6),(0.95,-1.85),(-0.5,-1.75),(1.0,-1.0)]
NMAN03 = [(-0.7,1.5),(0.8,2.0),(0.3,1.55),(1.1,1.5),(3.2,1.45),(-0.5,1.2),(-0.2,1.1),(0.2,1.0),(-0.8,0.85),(-0.4,0.75),(0.5,0.7),(1.0,0.6),(-0.6,0.45),(-0.1,0.35),(0.4,0.25),(-0.9,0.15),(-0.5,0.05),(-0.3,-0.05),(0.1,-0.1),(1.5,-0.05),(-0.7,-0.2),(-0.4,-0.3),(0.0,-0.35),(0.7,-0.45),(-0.6,-0.55),(-0.2,-0.65),(0.3,-0.7),(1.2,-0.8),(2.2,-0.5),(-0.5,-0.95),(0.0,-1.05),(0.9,-1.1),(2.0,-1.2),(-0.3,-1.3),(0.5,-1.45),(2.5,-1.5),(-0.6,-1.7),(0.2,-1.8),(2.8,-1.95),(-0.85,0.5)]
NBAM04 = [(0.9,1.95),(1.3,1.3),(-0.1,1.05),(0.3,0.5),(0.9,0.25),(-0.3,0.2),(-0.55,-0.45),(0.6,-0.3),(1.6,-0.6),(1.8,-0.85),(-0.7,-0.8),(0.2,-0.95),(1.3,-1.1),(-0.2,-1.3),(-0.8,-1.6),(-0.6,-1.9),(1.1,-1.6)]
NPAT05 = [(-0.45,1.95),(-0.4,1.6),(-0.55,1.4),(-0.3,1.3),(-0.5,1.1),(-0.4,0.95),(-0.6,0.8),(-0.35,0.7),(-0.5,0.55),(-0.45,0.4),(-0.6,0.3),(-0.3,0.2),(-0.5,0.1),(-0.4,0.0),(-0.55,-0.1),(-0.25,-0.2),(-0.45,-0.3),(-0.6,-0.4),(-0.35,-0.5),(-0.5,-0.6),(-0.4,-0.75),(-0.55,-0.9),(-0.3,-1.0),(-0.45,-1.1),(-0.2,-1.25),(-0.5,-1.4),(-0.35,-1.55),(0.1,-1.6),(0.35,-1.75),(0.6,-1.95),(-0.1,-1.85),(0.6,0.3),(0.1,-0.45),(-0.2,0.85),(-0.55,-1.7),(-0.25,1.55),(0.0,-1.2),(-0.1,0.1)]
NBEL06 = [(-0.45,1.95),(-0.5,1.6),(-0.4,1.45),(-0.55,1.3),(-0.35,1.2),(0.1,1.2),(1.3,1.25),(2.5,1.15),(-0.5,1.0),(-0.4,0.85),(-0.55,0.7),(-0.3,0.55),(-0.45,0.45),(-0.5,0.3),(-0.35,0.2),(0.0,0.25),(-0.55,0.1),(-0.4,0.0),(-0.45,-0.1),(-0.3,-0.2),(-0.55,-0.3),(-0.4,-0.4),(0.2,-0.3),(-0.5,-0.55),(-0.35,-0.7),(-0.45,-0.85),(-0.55,-1.0),(-0.3,-1.1),(0.6,-1.25),(-0.45,-1.3),(-0.5,-1.5),(-0.35,-1.65),(-0.45,-1.8),(0.9,-1.9),(-0.55,-1.9),(-0.2,0.6),(-0.25,-0.6),(-0.5,-1.2),(0.05,-1.4)]
NBAR07 = [(-0.5,1.9),(-0.55,1.5),(-0.35,1.4),(-0.7,1.25),(-0.2,1.3),(0.5,1.3),(-0.5,1.1),(-0.8,0.9),(-0.4,0.8),(-0.6,0.6),(-0.2,0.55),(-0.85,0.4),(-0.5,0.3),(-0.3,0.15),(-0.7,0.05),(-0.45,0.0),(-0.1,0.0),(0.3,0.1),(-0.9,-0.1),(-0.6,-0.15),(-0.35,-0.25),(-0.75,-0.35),(-0.5,-0.45),(0.0,-0.5),(-0.85,-0.6),(-0.4,-0.7),(0.6,-0.65),(1.5,-0.7),(1.9,-0.6),(-0.65,-0.85),(-0.3,-0.95),(0.4,-1.0),(1.1,-1.15),(1.9,-1.3),(-0.8,-1.1),(-0.5,-1.25),(0.1,-1.3),(1.4,-1.5),(-0.6,-1.5),(-0.3,-1.6),(0.8,-1.8),(-0.55,-1.85),(-0.1,0.9),(-0.45,-1.0),(-0.7,0.6)]
NGAD08 = [(-0.3,1.85),(-0.45,1.6),(-0.35,1.45),(-0.5,1.3),(-0.25,1.2),(0.3,1.2),(-0.4,1.05),(-0.55,0.9),(-0.3,0.75),(-0.45,0.6),(-0.5,0.45),(-0.35,0.35),(-0.45,0.2),(-0.3,0.1),(-0.5,0.0),(-0.4,-0.1),(-0.55,-0.2),(-0.3,-0.3),(-0.45,-0.4),(-0.5,-0.55),(-0.35,-0.65),(-0.45,-0.8),(-0.3,-0.9),(-0.5,-1.0),(-0.4,-1.15),(-0.25,-1.25),(-0.5,-1.35),(-0.35,-1.5),(-0.45,-1.65),(0.2,-1.6),(0.6,-1.95),(-0.1,-0.6),(0.3,-0.9),(-0.2,0.5),(-0.4,1.7),(-0.5,-1.8),(0.0,-0.2),(-0.35,-1.9),(-0.45,0.85)]
NSAN09 = [(-0.35,1.95),(-0.4,1.55),(-0.25,1.45),(-0.5,1.3),(0.3,1.3),(0.8,1.25),(-0.35,1.1),(-0.45,0.95),(-0.2,0.85),(-0.4,0.7),(-0.5,0.55),(-0.3,0.45),(0.0,0.4),(-0.45,0.3),(-0.35,0.15),(-0.5,0.05),(-0.25,0.0),(0.1,-0.05),(-0.4,-0.1),(-0.5,-0.25),(-0.3,-0.35),(-0.45,-0.5),(0.2,-0.5),(-0.35,-0.65),(-0.5,-0.8),(-0.25,-0.9),(0.5,-0.85),(-0.4,-1.0),(-0.5,-1.15),(-0.3,-1.3),(-0.45,-1.45),(0.1,-1.4),(-0.35,-1.6),(-0.5,-1.75),(-0.2,-1.85),(1.5,-1.95),(-0.1,-1.2),(-0.4,1.8)]
NHOS10 = [(-0.3,1.9),(-0.6,1.5),(-0.2,1.35),(0.6,1.4),(1.0,1.3),(-0.8,1.2),(-0.45,1.05),(0.2,1.0),(-0.7,0.85),(-0.3,0.75),(0.5,0.6),(1.2,0.7),(-0.9,0.55),(-0.55,0.4),(-0.15,0.35),(0.3,0.3),(2.3,0.3),(-0.75,0.15),(-0.4,0.05),(0.0,0.0),(0.8,0.05),(-0.95,-0.1),(-0.6,-0.2),(-0.25,-0.25),(0.4,-0.3),(1.6,-0.3),(-0.8,-0.45),(-0.45,-0.55),(0.0,-0.6),(1.0,-0.6),(-0.7,-0.8),(-0.3,-0.9),(0.3,-0.95),(1.4,-1.0),(-0.9,-1.1),(-0.5,-1.2),(0.1,-1.3),(2.0,-1.25),(-0.6,-1.5),(-0.2,-1.6),(0.7,-1.5),(-0.4,-1.8),(1.7,-1.9),(-0.75,-1.95)]
NCHH11 = [(-0.6,1.85),(-0.5,1.5),(-0.7,1.4),(-0.4,1.3),(0.8,1.3),(-0.55,1.1),(-0.3,1.0),(-0.65,0.9),(-0.45,0.75),(0.0,0.7),(-0.6,0.55),(-0.35,0.45),(-0.7,0.3),(-0.5,0.2),(-0.2,0.15),(-0.6,0.05),(-0.4,-0.05),(0.2,-0.1),(2.7,-0.05),(3.1,-0.1),(-0.65,-0.2),(-0.45,-0.3),(-0.25,-0.4),(-0.6,-0.5),(-0.4,-0.6),(0.1,-0.55),(-0.7,-0.75),(-0.5,-0.85),(-0.3,-0.95),(-0.6,-1.05),(0.4,-1.05),(-0.45,-1.2),(-0.65,-1.35),(-0.35,-1.45),(-0.55,-1.6),(-0.4,-1.75),(-0.6,-1.9),(1.9,-1.7),(-0.2,-1.25),(0.5,0.3)]
NHAN12 = [(-0.55,1.9),(-0.5,1.55),(-0.35,1.4),(-0.6,1.25),(0.5,1.25),(1.5,1.2),(-0.45,1.05),(-0.3,0.9),(-0.55,0.75),(-0.4,0.6),(-0.6,0.45),(-0.2,0.4),(0.8,0.3),(-0.45,0.25),(-0.55,0.1),(-0.3,0.0),(-0.45,-0.1),(-0.6,-0.25),(-0.35,-0.35),(0.0,-0.3),(-0.5,-0.5),(-0.4,-0.65),(-0.55,-0.8),(-0.25,-0.85),(0.3,-0.9),(-0.45,-1.0),(-0.6,-1.15),(-0.35,-1.3),(-0.5,-1.45),(-0.4,-1.6),(-0.55,-1.75),(-0.3,-1.85),(1.8,-1.9),(-0.1,-1.3),(-0.5,0.5),(-0.35,-0.2),(-0.6,-0.6),(0.1,0.95),(-0.45,1.7)]
NKOG13 = [(-0.45,1.9),(-0.4,1.6),(-0.5,1.4),(-0.35,1.25),(-0.45,1.1),(-0.5,0.95),(-0.4,0.8),(-0.45,0.65),(-0.5,0.5),(-0.35,0.4),(-0.45,0.3),(-0.5,0.15),(-0.4,0.05),(-0.45,-0.05),(-0.5,-0.15),(-0.35,-0.25),(-0.45,-0.35),(-0.5,-0.5),(-0.4,-0.6),(-0.45,-0.75),(-0.5,-0.9),(-0.35,-1.0),(-0.45,-1.1),(-0.5,-1.25),(-0.4,-1.4),(-0.45,-1.55),(-0.5,-1.7),(-0.35,-1.85),(-0.45,-1.95),(0.8,0.0),(0.3,0.3),(0.15,-0.8),(-0.2,1.2),(-0.25,-0.45),(-0.3,-1.6),(-0.55,0.7),(-0.2,0.0),(-0.3,-1.95),(0.1,-1.3)]
NMAN14 = [(-0.4,1.85),(-0.8,1.5),(-0.5,1.4),(0.0,1.3),(0.7,1.35),(1.2,1.3),(-0.9,1.15),(-0.6,1.0),(-0.2,0.9),(0.4,1.0),(-0.75,0.75),(-0.35,0.6),(0.1,0.55),(-0.9,0.4),(-0.55,0.3),(-0.2,0.2),(0.6,0.3),(-0.8,0.1),(-0.45,0.0),(0.0,-0.05),(0.9,0.0),(3.0,0.0),(2.1,0.05),(-0.95,-0.15),(-0.6,-0.25),(-0.25,-0.3),(0.3,-0.35),(1.5,-0.3),(-0.8,-0.5),(-0.4,-0.6),(0.1,-0.65),(-0.65,-0.8),(-0.3,-0.9),(0.5,-0.95),(1.3,-1.0),(-0.85,-1.1),(-0.5,-1.2),(0.0,-1.25),(0.8,-1.3),(-0.7,-1.45),(-0.3,-1.5),(1.6,-1.65),(-0.55,-1.7),(0.2,-1.75),(-0.8,-1.9),(1.9,-1.95)]
NDHU15 = [(-0.6,1.95),(0.7,1.3),(0.0,1.2),(-0.2,0.9),(0.5,0.3),(-0.5,0.0),(1.1,0.1),(-0.7,-0.5),(0.3,-0.5),(1.3,-0.6),(-0.6,-0.9),(0.6,-1.2),(-0.7,-1.3),(2.6,-1.95),(-0.4,-1.0)]
NPAT16 = [(0.0,1.95),(1.0,1.5),(0.5,1.2),(-0.3,1.2),(1.4,1.2),(0.2,0.6),(1.3,0.5),(-0.7,0.0),(0.8,0.0),(1.8,-0.2),(-0.3,-0.6),(0.5,-0.6),(-1.0,-0.9),(1.2,-0.9),(0.1,-1.2),(1.7,-1.2),(-0.5,-1.8),(0.9,-1.9)]
NGAR17 = [(-0.5,1.9),(-0.6,1.55),(-0.4,1.45),(-0.7,1.3),(-0.3,1.25),(0.3,1.3),(-0.55,1.1),(-0.45,0.95),(-0.65,0.8),(-0.35,0.7),(0.0,0.65),(-0.6,0.55),(-0.4,0.45),(-0.75,0.35),(-0.5,0.25),(-0.2,0.2),(-0.65,0.1),(-0.4,0.0),(0.0,0.05),(0.2,-0.1),(-0.7,-0.1),(-0.5,-0.2),(-0.3,-0.3),(-0.6,-0.4),(0.1,-0.45),(-0.45,-0.55),(-0.7,-0.65),(-0.35,-0.75),(-0.55,-0.85),(0.5,-0.6),(-0.4,-1.0),(-0.65,-1.1),(-0.2,-1.15),(-0.5,-1.3),(-0.35,-1.45),(-0.6,-1.55),(0.3,-1.4),(-0.45,-1.7),(-0.6,-1.9),(0.0,-1.85),(3.0,-0.65),(-0.25,0.85),(-0.55,-1.2)]
NCHA18 = [(-0.5,1.9),(-0.45,1.55),(-0.6,1.4),(-0.3,1.3),(-0.5,1.1),(-0.35,0.95),(-0.6,0.8),(-0.4,0.65),(-0.2,0.55),(0.0,0.4),(-0.5,0.35),(-0.6,0.2),(-0.35,0.1),(-0.45,0.0),(0.6,0.1),(-0.55,-0.15),(-0.3,-0.25),(-0.6,-0.4),(-0.4,-0.55),(1.4,-0.2),(-0.5,-0.75),(-0.25,-0.9),(-0.55,-1.05),(-0.4,-1.2),(0.1,-1.1),(-0.6,-1.35),(-0.35,-1.5),(-0.5,-1.7),(-0.3,-1.9),(1.9,-0.6),(1.8,-0.9),(-0.1,-0.6)]

nar_names = ["NDIN01", "NMOH02", "NMAN03", "NBAM04", "NPAT05", "NBEL06",
             "NBAR07", "NGAD08", "NSAN09", "NHOS10", "NCHH11", "NHAN12",
             "NKOG13", "NMAN14", "NDHU15", "NPAT16", "NGAR17", "NCHA18"]
nar_years = [28, 39, 40, 17, 38, 39,
             45, 39, 38, 44, 40, 39,
             39, 46, 15, 18, 43, 32]
nar_corr = [None, None, None, None, None, None,
            None, None, None, None, -0.282, None,
            None, None, None, None, -0.295, None]
nar_trend = [-1, -1, -1, 1, -1, -1,
             -1, -1, -1, -1, -1, -1,
             -1, -1, -1, -1, -1, -1]

tick_vals = [-3, -2, -1, 0, 1, 2, 3]
tick_text = ["-3", "-2", "-1", "0", "1", "2", "3"]

FONT = "Liberation Sans, Arial, Helvetica, sans-serif"
RED = "#e8141c"
BLUE = "#38379a"
GREY = "#cfcfcf"
FRAME = "#5a5a5a"
LIM = 3.25

fig = go.Figure()
layout = {}
annotations = []
shapes = []
counter = [0]


def add_panel(pts, name, years, corr, trend, left, top, w, h, show_x, show_y, geo):
    counter[0] += 1
    n = counter[0]
    sfx = "" if n == 1 else str(n)
    xa, ya = "x" + sfx, "y" + sfx
    right = min(left + w, W)
    vis = (right - left) / w
    layout["xaxis" + sfx] = dict(
        domain=[left / W, right / W], range=[-LIM, -LIM + 2 * LIM * vis], anchor=ya,
        showgrid=False, zeroline=False, showline=False, fixedrange=True,
        showticklabels=show_x, ticks="outside" if show_x else "",
        tickvals=tick_vals, ticktext=tick_text, tickangle=-90, ticklen=3,
        tickcolor="#333", tickwidth=1,
        tickfont=dict(family=FONT, size=12, color="#1a1a1a", weight="bold"))
    layout["yaxis" + sfx] = dict(
        domain=[1 - (top + h) / H, 1 - top / H], range=[-LIM, LIM], anchor=xa,
        showgrid=False, zeroline=False, showline=False, fixedrange=True,
        showticklabels=show_y, ticks="outside" if show_y else "",
        tickvals=tick_vals, ticktext=tick_text, ticklen=3, tickcolor="#333", tickwidth=1,
        tickfont=dict(family=FONT, size=14, color="#1a1a1a", weight="bold"))
    sig = corr is not None
    fig.add_trace(go.Scatter(
        x=[-3.4, 3.4], y=[-trend * 3.4, trend * 3.4], mode="lines",
        line=dict(color=BLUE if sig else GREY, width=1.4 if sig else 1.1),
        xaxis=xa, yaxis=ya, hoverinfo="skip", showlegend=False))
    fig.add_trace(go.Scatter(
        x=[p[0] for p in pts], y=[p[1] for p in pts], mode="markers",
        marker=dict(color=RED, size=geo["ms"], line=dict(width=0)),
        xaxis=xa, yaxis=ya, showlegend=False, cliponaxis=True))
    shapes.append(dict(type="rect", xref=xa + " domain", yref=ya + " domain",
                       x0=0, x1=1 / vis, y0=0, y1=1,
                       line=dict(color=FRAME, width=1.1), fillcolor="rgba(0,0,0,0)"))
    annotations.append(dict(text=f"{years} Years", xref=xa + " domain", yref=ya + " domain",
                            x=geo["yr_x"] / (w * vis), y=1 - geo["yr_y"] / h,
                            xanchor="left", yanchor="middle",
                            showarrow=False, font=dict(family=FONT, size=7.5, color="#444")))
    annotations.append(dict(text=f"<b>{name}</b>", xref=xa + " domain", yref=ya + " domain",
                            x=(w - geo["nm_r"]) / (w * vis), y=1 - geo["nm_y"] / h,
                            xanchor="right", yanchor="middle", showarrow=False,
                            font=dict(family=FONT, size=12, color="#111")))
    label = "NS" if corr is None else f"Correlation: {corr}"
    annotations.append(dict(text=label, xref=xa + " domain", yref=ya + " domain",
                            x=geo["cr_x"] / (w * vis), y=geo["cr_y"] / h,
                            xanchor="left", yanchor="middle",
                            showarrow=False, font=dict(family=FONT, size=10, color="#333")))


# Godavari grid
g_left = [55, 179, 303, 427, 551, 675, 799]
g_top = [43, 167, 292, 416, 541, 665, 790]
g_geo = dict(ms=5.5, yr_x=8, yr_y=9, nm_r=6, nm_y=15, cr_x=10, cr_y=13)
for i, nm in enumerate(god_names):
    r, c = divmod(i, 7)
    add_panel(globals()[nm], nm, god_years[i], god_corr[i], god_trend[i],
              g_left[c], g_top[r], 110, 109,
              show_x=(r == 6), show_y=(c == 0), geo=g_geo)

# Narmada grid
n_left = [57, 201, 345, 489, 633, 777]
n_top = [1022, 1191, 1360]
n_geo = dict(ms=5.5, yr_x=8, yr_y=8, nm_r=6, nm_y=15, cr_x=10, cr_y=12)
for i, nm in enumerate(nar_names):
    r, c = divmod(i, 6)
    add_panel(globals()[nm], nm, nar_years[i], nar_corr[i], nar_trend[i],
              n_left[c], n_top[r], 130, 130,
              show_x=(r == 2), show_y=(c == 0), geo=n_geo)


def paper_text(text, px, py, size, bold=False, angle=0, xanchor="left"):
    annotations.append(dict(text=f"<b>{text}</b>" if bold else text, xref="paper", yref="paper",
                            x=px / W, y=1 - py / H, xanchor=xanchor, yanchor="middle",
                            textangle=angle, showarrow=False,
                            font=dict(family=FONT, size=size, color="#1a1a1a")))


paper_text("(a)", 7, 18, 19)
paper_text("Godavari River Basin", 61, 17, 20)
paper_text("(b)", 7, 995, 19)
paper_text("Narmada River Basin", 74, 996, 20)
paper_text("Standardised Peak Flow", 482, 935, 20, bold=True, xanchor="center")
paper_text("Standardised Peak Flow", 482, 1535, 20, bold=True, xanchor="center")
paper_text("PDO<sub>OND</sub>", 22, 472, 25, angle=-90, xanchor="center")
paper_text("PDO<sub>OND</sub>", 22, 1256, 25, angle=-90, xanchor="center")

fig.update_layout(**layout)
fig.update_layout(width=W, height=H, autosize=False,
                  margin=dict(l=0, r=0, t=0, b=0),
                  paper_bgcolor="white", plot_bgcolor="white",
                  showlegend=False, annotations=annotations, shapes=shapes,
                  font=dict(family=FONT))
fig.write_html("out.html",
               config={"displayModeBar": False, "staticPlot": True},
               post_script="document.body.style.margin='0';document.body.style.overflow='hidden';")
